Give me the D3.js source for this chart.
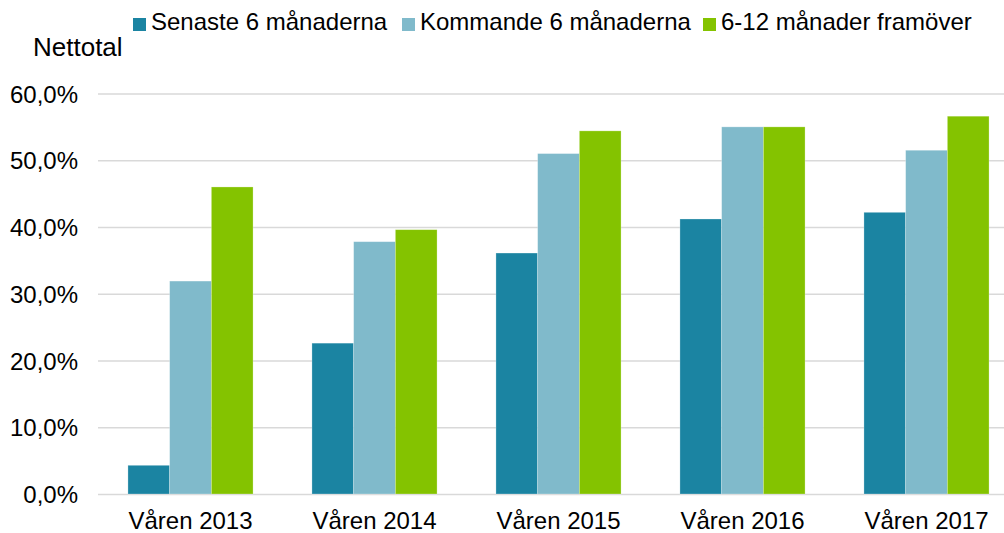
<!DOCTYPE html>
<html>
<head>
<meta charset="utf-8">
<script src="https://cdn.jsdelivr.net/npm/d3@7"></script>
<style>
  html, body { margin: 0; padding: 0; background: #fff; }
  svg { display: block; font-family: "Liberation Sans", Arial, sans-serif; }
  .grid line { stroke: #d9d9d9; stroke-width: 1.5; }
  .grid path { display: none; }
  .axis text { fill: #000; font-size: 24px; }
  .axis path, .axis line { display: none; }
</style>
</head>
<body>
<svg id="chart" width="1004" height="533"></svg>
<script>
// Data
const categories = ["Våren 2013", "Våren 2014", "Våren 2015", "Våren 2016", "Våren 2017"];
const seriesNames = ["Senaste 6 månaderna", "Kommande 6 månaderna", "6-12 månader framöver"];
const senaste = [4.3, 22.6, 36.1, 41.2, 42.2];
const kommande = [31.9, 37.8, 51.0, 55.0, 51.5];
const framover = [46.0, 39.6, 54.4, 55.0, 56.6];
const yTicks = [0, 10, 20, 30, 40, 50, 60];
const colors = ["#1b84a2", "#80bacb", "#84c300"];

const series = [senaste, kommande, framover];

const svg = d3.select("#chart");
const width = 1004;

const x = d3.scaleBand()
  .domain(categories)
  .range([98.5, 1018.5])
  .paddingInner(0.32)
  .paddingOuter(0.16);

const xs = d3.scaleBand()
  .domain(d3.range(series.length))
  .range([0, x.bandwidth()]);

const y = d3.scaleLinear()
  .domain([0, 60])
  .range([494, 93.5]);

const fmt = d => d3.format(".1f")(d).replace(".", ",") + "%";

// Gridlines
svg.append("g")
  .attr("class", "grid")
  .attr("transform", "translate(98,0)")
  .call(d3.axisLeft(y).tickValues(yTicks).tickSize(-(width - 98)).tickFormat(""));

// Y axis labels
svg.append("g")
  .attr("class", "axis")
  .attr("transform", "translate(88,0)")
  .call(d3.axisLeft(y).tickValues(yTicks).tickSize(0).tickFormat(fmt))
  .selectAll("text")
  .attr("x", -10)
  .attr("dy", "0.36em");

// Bars
const rows = categories.map((c, i) => ({ cat: c, vals: series.map(s => s[i]) }));

svg.append("g")
  .selectAll("g")
  .data(rows)
  .join("g")
  .attr("transform", d => `translate(${x(d.cat)},0)`)
  .selectAll("rect")
  .data(d => d.vals.map((v, k) => ({ k, v })))
  .join("rect")
  .attr("x", d => xs(d.k))
  .attr("y", d => y(d.v))
  .attr("width", xs.bandwidth())
  .attr("height", d => y(0) - y(d.v))
  .attr("fill", d => colors[d.k])
  .attr("stroke", "#fff")
  .attr("stroke-opacity", 0.35)
  .attr("stroke-width", 0.75);

// X axis labels
svg.append("g")
  .attr("class", "axis")
  .attr("transform", "translate(0,494)")
  .call(d3.axisBottom(x).tickSize(0))
  .selectAll("text")
  .attr("y", 0)
  .attr("dy", "35px");

// Axis title
svg.append("text")
  .attr("x", 33)
  .attr("y", 56)
  .attr("font-size", 26)
  .attr("fill", "#000")
  .text("Nettotal");

// Legend (item start positions as in the original)
const legendX = [133, 402, 703];
const legend = svg.append("g");
seriesNames.forEach((name, k) => {
  legend.append("rect")
    .attr("x", legendX[k]).attr("y", 18)
    .attr("width", 13).attr("height", 13)
    .attr("fill", colors[k]);
  legend.append("text")
    .attr("x", legendX[k] + 18).attr("y", 30)
    .attr("font-size", 24)
    .attr("fill", "#000")
    .text(name);
});
</script>
</body>
</html>
